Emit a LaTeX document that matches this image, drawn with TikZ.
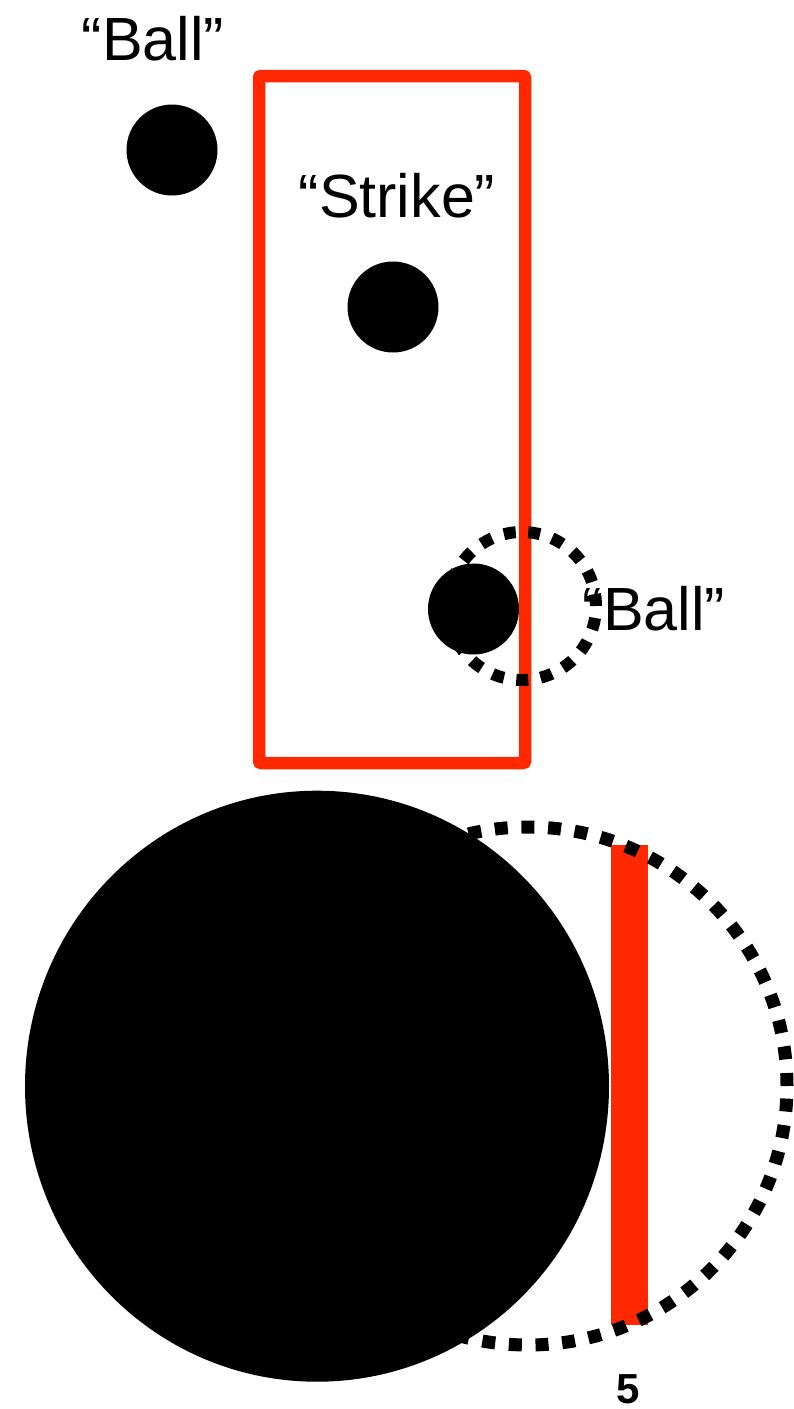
\documentclass[tikz,border=0pt]{standalone}
\usepackage{fontspec}
\usetikzlibrary{shapes.geometric}
\setmainfont{Liberation Sans}
\definecolor{zonered}{RGB}{255,40,0}
\begin{document}
\begin{tikzpicture}[x=1pt,y=1pt,
  ball/.style={circle, fill=black, inner sep=0pt, minimum size=#1},
  label/.style={inner sep=0pt, font=\fontsize{61}{70}\selectfont},
  zone/.style={draw=zonered, line width=12.5pt, rounded corners=2pt},
  dots/.style={draw=black, line cap=butt}]
\useasboundingbox (0,0) rectangle (794,-1409);
% strike zone
\draw[zone] (259,-76) rectangle (525,-763);
% dotted circle around edge ball
\coordinate (dc1) at (522,-606);
\draw[dots, line width=12pt, dash pattern=on 12pt off 12.5pt] (dc1) circle (74pt);
% balls
\node[ball=91pt] (b1) at (172,-150) {};
\node[ball=91pt] (b2) at (393,-307) {};
\node[ball=91pt] (b3) at (473.5,-609) {};
% labels
\node[label, anchor=base] (t1) at (153,-60) {“Ball”};
\node[label, anchor=base] (t2) at (397,-217) {“Strike”};
\node[label, anchor=base] (t3) at (654,-630) {“Ball”};
% bottom: red bar and big dotted circle
\fill[zonered] (611,-845) rectangle (648,-1325);
\coordinate (dc2) at (528,-1086);
\draw[dots, line width=13pt, dash pattern=on 13pt off 13.7pt] (dc2) circle (259pt);
\node[ellipse, fill=black, inner sep=0pt, minimum width=584pt, minimum height=591pt] (big) at (317,-1086.2) {};
\node[inner sep=0pt, anchor=base, font=\fontsize{42}{50}\selectfont\bfseries] (five) at (628,-1403.5) {5};
\end{tikzpicture}
\end{document}
